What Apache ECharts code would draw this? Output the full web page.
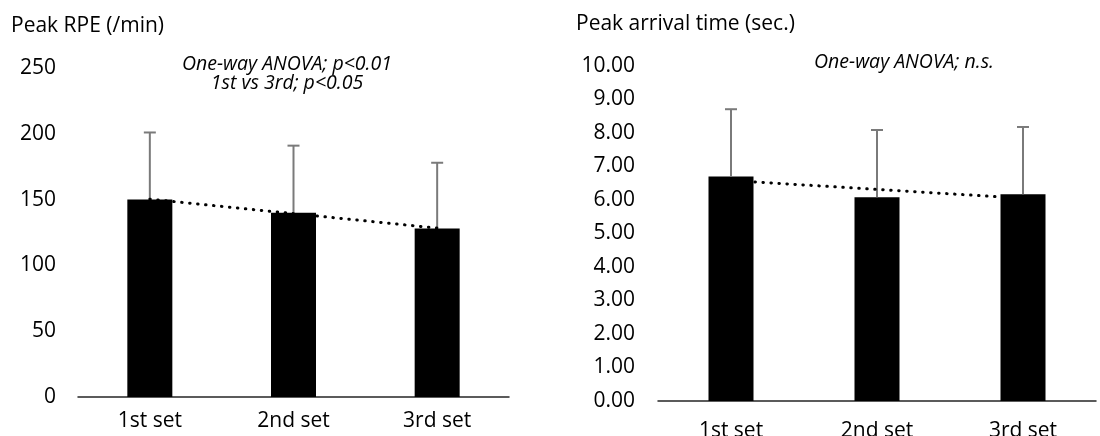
<!DOCTYPE html>
<html>
<head>
<meta charset="utf-8">
<script src="https://cdn.jsdelivr.net/npm/echarts@6/dist/echarts.min.js"></script>
<style>
  html, body { margin: 0; padding: 0; background: #fff; }
  #chart { width: 1100px; height: 436px; }
</style>
</head>
<body>
<div id="chart"></div>
<script>
// Sets compared in both panels
const categories = ['1st set', '2nd set', '3rd set'];

// Peak RPE (/min): mean and upper SD
const rpeMean = [150, 140, 128];
const rpeSD = [51, 51, 50];

// Peak arrival time (sec.): mean and upper SD
const arrivalMean = [6.70, 6.08, 6.17];
const arrivalSD = [2.01, 2.01, 2.01];

// Axis ranges
const rpeTicks = { min: 0, max: 250, interval: 50 };
const arrivalTicks = { min: 0, max: 10, interval: 1 };

const FONT = '"Open Sans", "Noto Sans", sans-serif';

// Least-squares linear trend over category positions
function linearTrend(values) {
  const n = values.length;
  const xs = values.map((_, i) => i + 1);
  const mx = xs.reduce((a, b) => a + b, 0) / n;
  const my = values.reduce((a, b) => a + b, 0) / n;
  let sxy = 0, sxx = 0;
  for (let i = 0; i < n; i++) {
    sxy += (xs[i] - mx) * (values[i] - my);
    sxx += (xs[i] - mx) * (xs[i] - mx);
  }
  const slope = sxy / sxx;
  return xs.map(x => my + slope * (x - mx));
}

function errorData(mean, sd) {
  return mean.map((m, i) => [i, m, m + sd[i]]);
}

// Upper error bar with a flat cap
function renderError(params, api) {
  const base = api.coord([api.value(0), api.value(1)]);
  const top = api.coord([api.value(0), api.value(2)]);
  const half = 6;
  const style = { stroke: '#7a7a7a', lineWidth: 2, fill: null };
  return {
    type: 'group',
    children: [
      { type: 'line', shape: { x1: base[0], y1: base[1], x2: top[0], y2: top[1] }, style },
      { type: 'line', shape: { x1: top[0] - half, y1: top[1], x2: top[0] + half, y2: top[1] }, style }
    ]
  };
}

function xAxisFor(gridIndex, margin) {
  return {
    type: 'category',
    gridIndex,
    data: categories,
    axisLine: { lineStyle: { color: '#262626', width: 1.5 } },
    axisTick: { show: false },
    axisLabel: { color: '#000', fontFamily: FONT, fontSize: 21, margin }
  };
}

function yAxisFor(gridIndex, ticks, margin, digits) {
  return {
    type: 'value',
    gridIndex,
    min: ticks.min,
    max: ticks.max,
    interval: ticks.interval,
    axisLine: { show: false },
    axisTick: { show: false },
    splitLine: { show: false },
    axisLabel: {
      color: '#000', fontFamily: FONT, fontSize: 21, margin,
      formatter: v => v.toFixed(digits)
    }
  };
}

function panelSeries(axisIndex, mean, sd) {
  return [
    {
      type: 'bar',
      xAxisIndex: axisIndex, yAxisIndex: axisIndex,
      data: mean,
      barWidth: 45,
      itemStyle: { color: '#000' },
      z: 2
    },
    {
      type: 'custom',
      xAxisIndex: axisIndex, yAxisIndex: axisIndex,
      data: errorData(mean, sd),
      renderItem: renderError,
      z: 3
    },
    {
      type: 'line',
      xAxisIndex: axisIndex, yAxisIndex: axisIndex,
      data: linearTrend(mean),
      symbol: 'none',
      lineStyle: { color: '#000', width: 3, type: [0.5, 7.5], cap: 'round' },
      z: 4
    }
  ];
}

function label(text, x, y, opts) {
  return {
    type: 'text',
    x, y,
    style: Object.assign({
      text,
      fill: '#000',
      fontFamily: FONT,
      fontSize: 21,
      align: 'left',
      verticalAlign: 'middle'
    }, opts || {})
  };
}

const noteStyle = { align: 'center', fontSize: 19.5, fontStyle: 'italic' };

const chart = echarts.init(document.getElementById('chart'), null, { renderer: 'canvas' });
chart.setOption({
  animation: false,
  backgroundColor: '#fff',
  grid: [
    { left: 78, top: 68, width: 431, height: 329, containLabel: false, outerBoundsMode: 'none' },
    { left: 658, top: 66, width: 438, height: 335, containLabel: false, outerBoundsMode: 'none' }
  ],
  xAxis: [xAxisFor(0, 14), xAxisFor(1, 20)],
  yAxis: [yAxisFor(0, rpeTicks, 22, 0), yAxisFor(1, arrivalTicks, 23, 2)],
  series: [].concat(panelSeries(0, rpeMean, rpeSD), panelSeries(1, arrivalMean, arrivalSD)),
  graphic: [
    label('Peak RPE (/min)', 11, 26),
    label('Peak arrival time (sec.)', 576, 24),
    label('One-way ANOVA; p<0.01', 287, 64, noteStyle),
    label('1st vs 3rd; p<0.05', 287, 83, noteStyle),
    label('One-way ANOVA; n.s.', 904, 62, noteStyle)
  ]
});
</script>
</body>
</html>
